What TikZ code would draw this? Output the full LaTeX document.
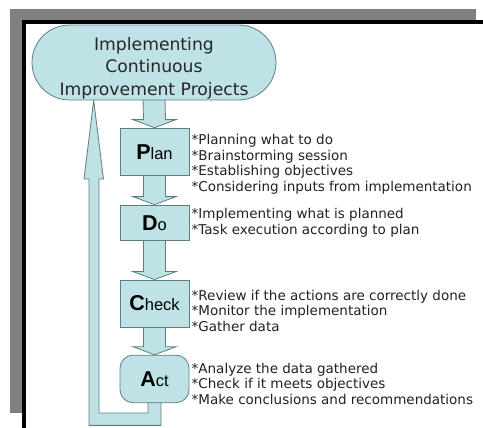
\documentclass[tikz,border=0pt]{standalone}
\usepackage{fontspec}
\setmainfont{DejaVu Sans}
\newfontfamily\labelfont{Liberation Sans}
\usetikzlibrary{calc,shapes.misc}
\pgfdeclarelayer{frame}
\pgfdeclarelayer{bg}
\pgfsetlayers{frame,bg,main}
\definecolor{aqua}{HTML}{BFE2E6}
\definecolor{aquaedge}{HTML}{5E7E80}
\definecolor{shadowgray}{HTML}{808080}
\definecolor{inktext}{HTML}{222222}
% big bold initial followed by the rest of the word
\newcommand\stepname[2]{{\labelfont{\fontsize{21.5}{21.5}\selectfont\bfseries #1}{\fontsize{16.5}{16.5}\selectfont #2}}}
\begin{document}
\begin{tikzpicture}[x=1pt,y=-1pt,
  stage/.style={draw=aquaedge, fill=aqua, line width=0.8pt, minimum width=69pt, inner sep=0pt},
  flowarrow/.style={draw=aquaedge, fill=aqua, line width=0.8pt, line join=miter},
  notes/.style={anchor=west, align=left, inner sep=0pt, text=inktext, font=\fontsize{13.5}{15.5}\selectfont}]
\useasboundingbox (0,0) rectangle (483,428);

% page frame with its grey shadow
\begin{pgfonlayer}{frame}
\fill[shadowgray] (10,9) rectangle (476,413);
\fill[black] (22,20) rectangle (483,428);
\fill[white] (26,24) rectangle (483,428);
\end{pgfonlayer}

% title and the four PDCA stages
\node[rounded rectangle, draw=aquaedge, fill=aqua, line width=0.8pt,
      minimum width=244pt, minimum height=75pt, inner sep=0pt, align=center,
      text=black!85, font=\fontsize{17.2}{21.7}\selectfont] (title) at (154,62.5)
  {\raisebox{-10pt}[0pt][0pt]{\begin{tabular}{@{}c@{}}Implementing\\[0.8pt]Continuous\\[0.8pt]Improvement Projects\end{tabular}}};
\node[stage, minimum height=47.5pt] (plan) at (154.5,151.8) {\stepname{P}{lan}};
\node[stage, minimum height=35.5pt] (do) at (154.5,222.8) {\stepname{D}{o}};
\node[stage, minimum height=47pt] (check) at (154.5,303.5) {\stepname{C}{heck}};
\node[stage, rounded corners=13pt, minimum height=47.5pt] (act) at (154.5,378.9) {\stepname{A}{ct}};

% notes beside each stage
\node[notes] (plannotes) at (191.5,164.5) {*Planning what to do\\*Brainstorming session\\*Establishing objectives\\*Considering inputs from implementation};
\node[notes] (donotes) at (191.5,223) {*Implementing what is planned\\*Task execution according to plan};
\node[notes] (checknotes) at (191.5,310.5) {*Review if the actions are correctly done\\*Monitor the implementation\\*Gather data};
\node[notes] (actnotes) at (191.5,383.5) {*Analyze the data gathered\\*Check if it meets objectives\\*Make conclusions and recommendations};

% block arrows and the feedback loop, behind the shapes
\coordinate (fbtip) at (93.7,100.5);
\begin{pgfonlayer}{bg}
\foreach \a/\b in {title/plan, plan/do, do/check, check/act}
  \path[flowarrow] ($(\a.south)+(-11,-2)$) -- ($(\b.north)+(-11,-8)$) -- ($(\b.north)+(-21.5,-8)$)
     -- (\b.north) -- ($(\b.north)+(21.5,-8)$) -- ($(\b.north)+(11,-8)$) -- ($(\a.south)+(11,-2)$);
\path[flowarrow] ($(act.south)+(-6.5,-3)$) |- (99,413) -- (99,179) -- (103.5,179) -- (fbtip)
   -- (84,179) -- (89,179) |- ($(act.south)+(6.5,22.3)$) -- ($(act.south)+(6.5,-3)$);
\end{pgfonlayer}
\end{tikzpicture}
\end{document}
